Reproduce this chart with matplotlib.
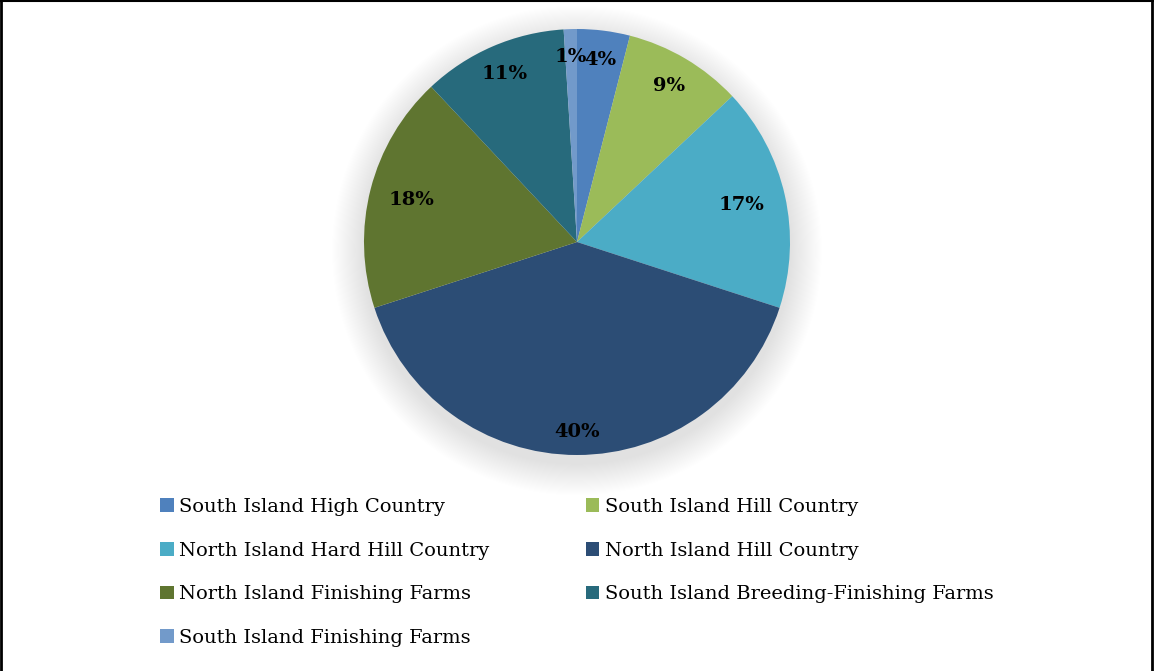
import numpy as np
import matplotlib.pyplot as plt
from matplotlib.patches import Circle, Patch
from matplotlib.lines import Line2D

# Share of farms by farm class
farm_classes = [
    "South Island High Country",
    "South Island Hill Country",
    "North Island Hard Hill Country",
    "North Island Hill Country",
    "North Island Finishing Farms",
    "South Island Breeding-Finishing Farms",
    "South Island Finishing Farms",
]
shares = [4, 9, 17, 40, 18, 11, 1]
colours = ["#4F81BD", "#9BBB59", "#4BACC6", "#2C4D75", "#5F7530", "#276A7C", "#729ACA"]
label_radius = [0.86, 0.85, 0.79, 0.89, 0.80, 0.86, 0.87]

plt.rcParams["font.family"] = ["DejaVu Serif"]

W, H = 1154, 671
fig = plt.figure(figsize=(W / 100, H / 100), dpi=100)

# pie centre (577, 242) px, radius 213 px
cx, cy, r = 577, 242, 213
ax = fig.add_axes([(cx - r) / W, (H - cy - r) / H, 2 * r / W, 2 * r / H])

# soft drop shadow behind the pie
n_rings = 30
for k in range(n_rings):
    rad = 1.0 + 0.15 * (k + 1) / n_rings
    ax.add_patch(Circle((0, -0.04), rad, color="black", alpha=0.004,
                        lw=0, zorder=0, clip_on=False))

wedges, _ = ax.pie(shares, colors=colours, startangle=90, counterclock=False,
                   radius=1, wedgeprops=dict(linewidth=0))
for w in wedges:
    w.set_zorder(2)

for w, val, lr in zip(wedges, shares, label_radius):
    mid = np.deg2rad((w.theta1 + w.theta2) / 2)
    ax.text(lr * np.cos(mid), lr * np.sin(mid), f"{val}%", ha="center", va="center",
            fontsize=14, fontweight="bold", color="black", zorder=3)

ax.set_xlim(-1, 1)
ax.set_ylim(-1, 1)
ax.set_aspect("equal")
ax.axis("off")

# legend laid out row by row in two columns
order = [0, 2, 4, 6, 1, 3, 5]
handles = [Patch(facecolor=colours[i], edgecolor="none") for i in order]
labels = [farm_classes[i] for i in order]
fig.legend(handles, labels, ncol=2, loc="upper left",
           bbox_to_anchor=(160 / W, 1 - 498 / H), frameon=False,
           fontsize=14, handlelength=0.7, handleheight=0.7, handletextpad=0.3,
           labelspacing=1.32, columnspacing=4.93, borderpad=0, borderaxespad=0)

# frame lines around the chart area
fig.add_artist(Line2D([1 / W, 1 / W], [0, 1], color="black", lw=2, transform=fig.transFigure))
fig.add_artist(Line2D([0, 1], [1 - 1 / H, 1 - 1 / H], color="black", lw=1.5, transform=fig.transFigure))
fig.add_artist(Line2D([1 - 2 / W, 1 - 2 / W], [0, 1], color="black", lw=2, transform=fig.transFigure))

fig.savefig("out.png", dpi=100)
